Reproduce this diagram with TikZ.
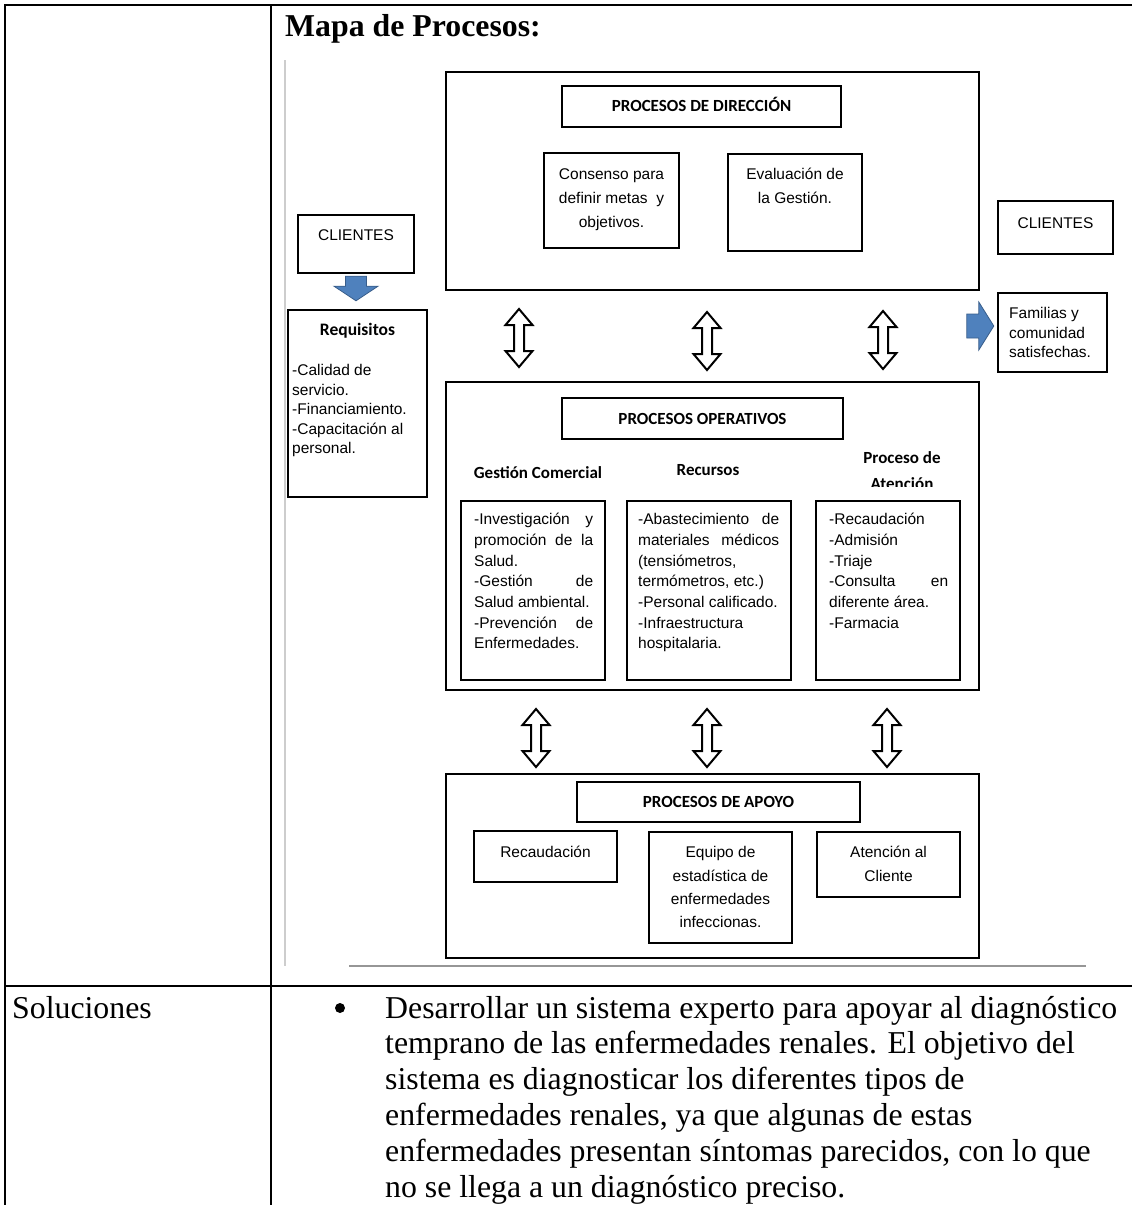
\documentclass[tikz,border=0pt]{standalone}
\usepackage{fontspec}
\setmainfont{Liberation Serif}
\setsansfont{Liberation Sans}
\newfontfamily\calfont{Carlito}
\usetikzlibrary{calc,fit}

\definecolor{shapeblue}{RGB}{79,129,189}
\definecolor{shapeblueline}{RGB}{56,93,138}
\definecolor{framegray}{RGB}{205,205,205}
\definecolor{rulegray}{RGB}{150,150,150}

\tikzset{
  tblline/.style={line width=2.2pt, black, line cap=rect},
  box/.style={draw, line width=2.4pt, inner sep=0pt},
  body/.style={font=\sffamily\fontsize{15.5}{20.7}\selectfont, inner sep=0pt},
  head/.style={font=\calfont\bfseries\fontsize{17}{20}\selectfont, inner sep=0pt, anchor=base},
  serif/.style={font=\rmfamily\fontsize{31.8}{35.8}\selectfont, inner sep=0pt, anchor=base west},
  hollowarr/.style={draw, fill=white, line width=2pt, line join=miter},
  bluearr/.style={fill=shapeblue, draw=shapeblueline, line width=0.8pt, line join=miter},
}

% rectangle node from its two corners
\newcommand\boxat[5]{\node[box, fit={(#2,#3) (#4,#5)}] (#1) {};}
% a line stretched to the given width
\newcommand\jline[2]{\makebox[#1][s]{#2}}
% outlined two-headed vertical arrow between two points
\newcommand\dblarrow[2]{%
  \draw[hollowarr] let \p1=(#1), \p2=(#2) in
    (\x1,\y1) -- (\x1+13.5pt,\y1-16pt) -- (\x1+5pt,\y1-16pt) -- (\x1+5pt,\y2+16pt)
    -- (\x1+13.5pt,\y2+16pt) -- (\x1,\y2) -- (\x1-13.5pt,\y2+16pt) -- (\x1-5pt,\y2+16pt)
    -- (\x1-5pt,\y1-16pt) -- (\x1-13.5pt,\y1-16pt) -- cycle;}

\begin{document}
\begin{tikzpicture}[x=1pt,y=-1pt]
\useasboundingbox (0,0) rectangle (1132,1205);
\clip (0,0) rectangle (1132,1205);

% table rules
\draw[tblline] (5,5) -- (1132,5);
\draw[tblline] (5,5) -- (5,1205);
\draw[tblline] (271,5) -- (271,1205);
\draw[tblline] (5,986) -- (1132,986);

% frame lines of the inserted figure
\draw[framegray, line width=2pt] (285,60) -- (285,966);
\draw[rulegray, line width=1.8pt] (349,966) -- (1086,966);

% title
\node[serif, font=\rmfamily\bfseries\fontsize{31.8}{36}\selectfont] (title) at (285,36) {Mapa de Procesos:};

% ---------- management processes ----------
\boxat{dir}{446}{72}{979}{290}
\boxat{dirh}{562}{86}{841}{127}
\boxat{cons}{544}{153}{679}{248}
\boxat{eval}{728}{154}{862}{251}
\node[head] (dirt) at (701.5,111.5) {PROCESOS DE DIRECCIÓN};
\node[body, anchor=north, align=center, font=\sffamily\fontsize{15.5}{24}\selectfont] (const) at (611.5,162.7)
  {\strut Consenso para\\definir metas~ y\\objetivos.};
\node[body, anchor=north, align=center, font=\sffamily\fontsize{15.5}{24}\selectfont] (evalt) at (795,162.7)
  {\strut Evaluación de\\la Gestión.};

% ---------- clients ----------
\boxat{clil}{298}{215}{414}{273}
\node[body, anchor=base] (clilt) at (356,240.5) {CLIENTES};
\boxat{req}{288}{310}{427}{497}
\node[head, font=\calfont\bfseries\fontsize{17.5}{20}\selectfont] (reqh) at (357.5,335.6) {Requisitos};
\node[body, anchor=north west, align=left, font=\sffamily\fontsize{15.5}{19.5}\selectfont] (reqt) at (292,361.9)
  {\strut -Calidad de\\servicio.\\-Financiamiento.\\-Capacitación al\\personal.};

\boxat{clir}{998}{201}{1113}{254}
\node[body, anchor=base] (clirt) at (1055.5,228.5) {CLIENTES};
\boxat{fam}{998}{293}{1107}{372}
\node[body, anchor=north west, align=left, font=\sffamily\fontsize{15.5}{19.5}\selectfont] (famt) at (1009,304.9)
  {\strut Familias y\\comunidad\\satisfechas.};

% blue arrows
\fill[bluearr] let \p1=(clil.south), \p2=(req.north) in
  (\x1-10.5pt,\y1-2pt) -- (\x1+10.5pt,\y1-2pt) -- (\x1+10.5pt,\y1-12pt) -- (\x1+22pt,\y1-12pt)
  -- (\x1,\y2+8pt) -- (\x1-22pt,\y1-12pt) -- (\x1-10.5pt,\y1-12pt) -- cycle;
\coordinate (famtip) at ($(fam.west)+(-3,-6.5)$);
\fill[bluearr] let \p1=(famtip) in
  (\x1-27pt,\y1+12pt) -- (\x1-15pt,\y1+12pt) -- (\x1-15pt,\y1+24pt) -- (\x1,\y1)
  -- (\x1-15pt,\y1-24pt) -- (\x1-15pt,\y1-12pt) -- (\x1-27pt,\y1-12pt) -- cycle;

% ---------- operational processes ----------
\boxat{op}{446}{382}{979}{690}
\boxat{oph}{562}{398}{843}{439}
\node[head] (opt) at (702.5,424.5) {PROCESOS OPERATIVOS};
\node[head] (gch) at (538,478.5) {Gestión Comercial};
\node[head] (rech) at (708,475.5) {Recursos};
\node[head] (pah1) at (902,463) {Proceso de};
\begin{scope}
  \clip (850,470) rectangle (960,486);
  \node[head] (pah2) at (902,489) {Atención};
\end{scope}
\boxat{gc}{461}{501}{605}{680}
\boxat{rec}{627}{501}{791}{680}
\boxat{pa}{816}{501}{960}{680}
\node[body, anchor=north west, align=left] (gct) at (474,510)
  {\strut\jline{119pt}{-Investigación y}\\\jline{119pt}{promoción de la}\\Salud.\\
   \jline{119pt}{-Gestión de}\\Salud ambiental.\\\jline{119pt}{-Prevención de}\\Enfermedades.};
\node[body, anchor=north west, align=left] (rect) at (638,510)
  {\strut\jline{141pt}{-Abastecimiento de}\\\jline{141pt}{materiales médicos}\\(tensiómetros,\\
   termómetros, etc.)\\-Personal calificado.\\-Infraestructura\\hospitalaria.};
\node[body, anchor=north west, align=left] (pat) at (829,510)
  {\strut -Recaudación\\-Admisión\\-Triaje\\\jline{119pt}{-Consulta en}\\diferente área.\\-Farmacia};

% ---------- support processes ----------
\boxat{ap}{446}{774}{979}{958}
\boxat{aph}{577}{782}{860}{822}
\node[head] (apt) at (718.5,807.5) {PROCESOS DE APOYO};
\boxat{ap1}{474}{831}{617}{882}
\boxat{ap2}{649}{832}{792}{943}
\boxat{ap3}{817}{832}{960}{897}
\node[body, anchor=base] (ap1t) at (545.5,857.5) {Recaudación};
\node[body, anchor=north, align=center, font=\sffamily\fontsize{15.5}{23.3}\selectfont] (ap2t) at (720.5,841.2)
  {\strut Equipo de\\estadística de\\enfermedades\\infeccionas.};
\node[body, anchor=north, align=center, font=\sffamily\fontsize{15.5}{23.3}\selectfont] (ap3t) at (888.5,841.2)
  {\strut Atención al\\Cliente};

% ---------- two-way links between the levels ----------
\coordinate (u1t) at (519,309); \coordinate (u1b) at (519,367);
\coordinate (u2t) at (707,312); \coordinate (u2b) at (707,370);
\coordinate (u3t) at (883,311); \coordinate (u3b) at (883,369);
\coordinate (l1t) at (536,709); \coordinate (l1b) at (536,767);
\coordinate (l2t) at (707,709); \coordinate (l2b) at (707,767);
\coordinate (l3t) at (887,709); \coordinate (l3b) at (887,767);
\dblarrow{u1t}{u1b}
\dblarrow{u2t}{u2b}
\dblarrow{u3t}{u3b}
\dblarrow{l1t}{l1b}
\dblarrow{l2t}{l2b}
\dblarrow{l3t}{l3b}

% ---------- solutions row ----------
\node[serif] (sol) at (12,1018) {Soluciones};
\fill (340,1008) circle (5);
\node[serif] (s1) at (385,1018) {Desarrollar un sistema experto para apoyar al diagnóstico};
\node[serif] (s2) at (385,1053.8) {temprano de las enfermedades renales. El objetivo del};
\node[serif] (s3) at (385,1089.6) {sistema es diagnosticar los diferentes tipos de};
\node[serif] (s4) at (385,1125.4) {enfermedades renales, ya que algunas de estas};
\node[serif] (s5) at (385,1161.2) {enfermedades presentan síntomas parecidos, con lo que};
\node[serif] (s6) at (385,1197) {no se llega a un diagnóstico preciso.};
\end{tikzpicture}
\end{document}
